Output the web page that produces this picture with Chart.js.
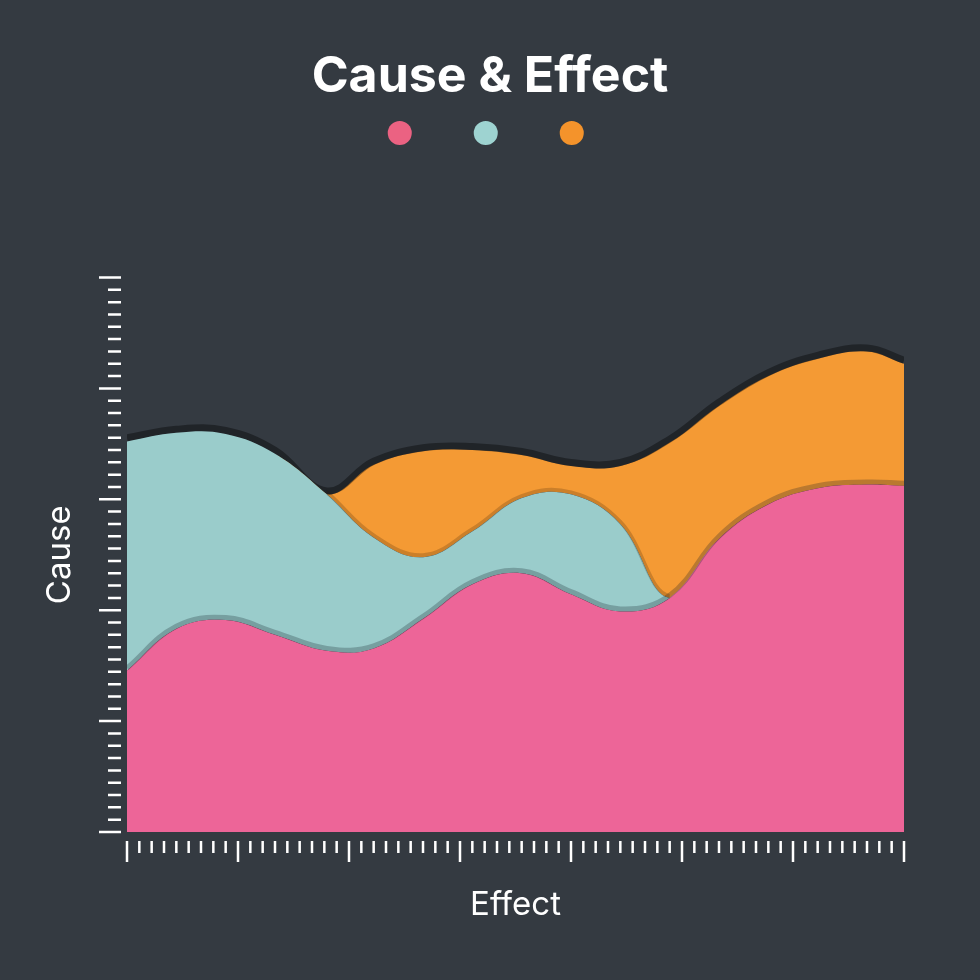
<!DOCTYPE html>
<html>
<head>
<meta charset="utf-8">
<title>Cause & Effect</title>
<script src="https://cdn.jsdelivr.net/npm/chart.js@4.4.1/dist/chart.umd.min.js"></script>
<style>
    html, body { margin: 0; padding: 0; background: #343a41; }
    canvas { display: block; }
</style>
</head>
<body>
<canvas id="chart" width="980" height="980"></canvas>
<script>
// effect positions (x) and the thickness of each band, stacked bottom to top
const effect = [0, 4, 8, 12, 16.2, 20, 24, 28, 32, 36, 40, 44, 48, 52, 56, 60, 63];
const pinkSeries = [13.1, 16.5, 17.2, 16.0, 14.7, 14.9, 17.3, 20.1, 21.0, 19.3, 17.9, 19.0, 23.8, 26.6, 27.9, 28.2, 28.1];
const tealSeries = [18.6, 15.9, 15.1, 14.7, 12.7, 9.0, 5.0, 4.3, 6.1, 8.1, 7.1, 0, 0, 0, 0, 0, 0];
const orangeSeries = [0, 0, 0, 0, 0, 5.9, 8.6, 6.6, 3.5, 2.3, 4.7, 12.6, 10.8, 10.4, 10.5, 10.8, 9.9];

const dotColours = ['#EB6282', '#9ED3D1', '#F4932B'];
const majorEvery = 9;
const ink = '#FFFFFF';
const family = 'Inter, "Open Sans", sans-serif';

const pts = vals => effect.map((x, i) => ({ x: x, y: vals[i] }));

// the teal edge only shows where it separates teal from orange
const tealEdgeFrom = effect[orangeSeries.findIndex(v => v > 0) - 1];
const tealEdgeTo = effect[tealSeries.indexOf(0)];

// draw each border a little above its edge so it reads as a shadow
const liftLines = {
    id: 'liftLines',
    beforeDatasetDraw(chart, args) {
        const ds = chart.data.datasets[args.index];
        const ctx = chart.ctx;
        ctx.save();
        if (ds.edgeFrom !== undefined) {
            const x = chart.scales.x;
            const a = x.getPixelForValue(ds.edgeFrom);
            const b = x.getPixelForValue(ds.edgeTo);
            ctx.beginPath();
            ctx.rect(a, 0, b - a, chart.height);
            ctx.clip();
        }
        ctx.translate(0, -(ds.lift || 0));
    },
    afterDatasetDraw(chart) {
        chart.ctx.restore();
    }
};

// ruler style ticks, long every 9 steps
const tickMarks = {
    id: 'tickMarks',
    afterDraw(chart) {
        const { ctx, chartArea, scales: { x, y } } = chart;
        ctx.save();
        ctx.strokeStyle = ink;
        ctx.lineWidth = 2.5;
        ctx.beginPath();
        x.ticks.forEach(t => {
            const px = x.getPixelForValue(t.value);
            const len = t.value % majorEvery === 0 ? 21 : 12;
            ctx.moveTo(px, chartArea.bottom + 9);
            ctx.lineTo(px, chartArea.bottom + 9 + len);
        });
        y.ticks.forEach(t => {
            const py = y.getPixelForValue(t.value);
            const len = t.value % majorEvery === 0 ? 22 : 13;
            ctx.moveTo(chartArea.left - 6, py);
            ctx.lineTo(chartArea.left - 6 - len, py);
        });
        ctx.stroke();
        ctx.restore();
    }
};

new Chart(document.getElementById('chart'), {
    type: 'line',
    data: {
        datasets: [
            {
                label: 'Pink',
                data: pts(pinkSeries),
                backgroundColor: '#ED6598',
                borderColor: 'rgba(10,25,30,0.25)',
                borderWidth: 5,
                lift: 2.5,
                fill: 'origin'
            },
            {
                label: 'Teal',
                data: pts(tealSeries),
                backgroundColor: '#9ACCCB',
                borderColor: 'rgba(40,20,0,0.2)',
                borderWidth: 4,
                lift: 2,
                edgeFrom: tealEdgeFrom,
                edgeTo: tealEdgeTo,
                fill: '-1'
            },
            {
                label: 'Orange',
                data: pts(orangeSeries),
                backgroundColor: '#F49A34',
                borderColor: 'rgba(0,0,0,0.38)',
                borderWidth: 7,
                lift: 3.5,
                fill: '-1'
            }
        ]
    },
    options: {
        responsive: false,
        animation: false,
        layout: {
            padding: { top: 64, left: 76, right: 76, bottom: 0 }
        },
        elements: {
            point: { radius: 0 },
            line: { tension: 0.4 }
        },
        scales: {
            x: {
                type: 'linear',
                min: 0,
                max: 63,
                ticks: { stepSize: 1, maxTicksLimit: 200, display: false },
                grid: { display: false },
                border: { display: false },
                title: {
                    display: true,
                    text: 'Effect',
                    color: ink,
                    font: { family: family, size: 33 },
                    padding: { top: 0, bottom: 55 }
                },
                afterFit: s => { s.height = 148; }
            },
            y: {
                stacked: true,
                min: 0,
                max: 45,
                ticks: { stepSize: 1, maxTicksLimit: 200, display: false },
                grid: { display: false },
                border: { display: false },
                title: {
                    display: true,
                    text: 'Cause',
                    color: ink,
                    font: { family: family, size: 33 },
                    padding: { top: -36, bottom: 0 }
                },
                afterFit: s => { s.width = 51; }
            }
        },
        plugins: {
            legend: {
                position: 'top',
                labels: {
                    usePointStyle: true,
                    boxWidth: 17,
                    boxHeight: 17,
                    padding: 60.5,
                    font: { size: 17 },
                    generateLabels: chart => chart.data.datasets.map((ds, i) => ({
                        text: '',
                        fillStyle: dotColours[i],
                        strokeStyle: dotColours[i],
                        lineWidth: 0,
                        pointStyle: 'circle',
                        hidden: false,
                        datasetIndex: i
                    }))
                }
            },
            title: {
                display: true,
                text: 'Cause & Effect',
                color: ink,
                weight: 500,
                font: { family: family, size: 50, weight: '700' },
                padding: { top: -105, bottom: 171 }
            },
            tooltip: { enabled: false }
        }
    },
    plugins: [liftLines, tickMarks]
});
</script>
</body>
</html>
